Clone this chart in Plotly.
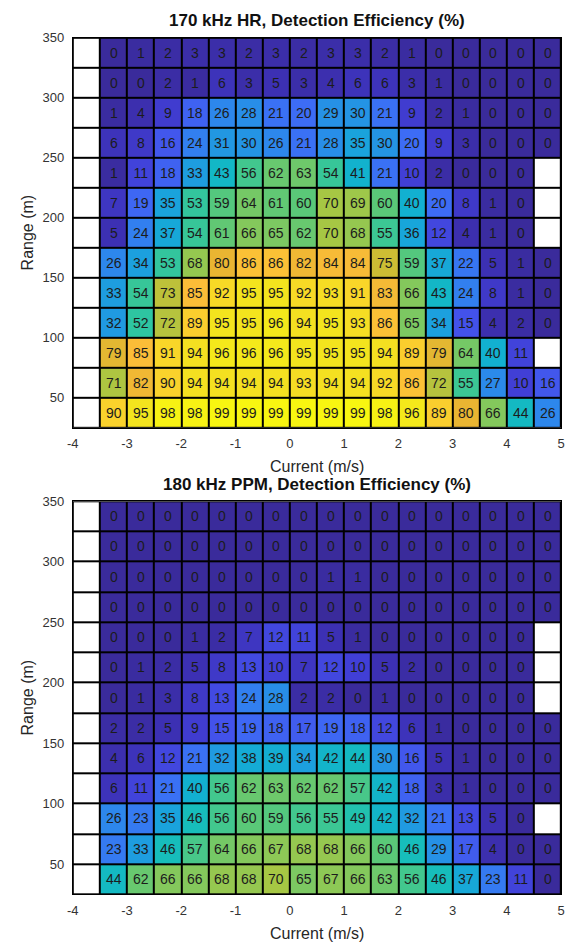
import plotly.graph_objects as go

# ---------------- data ----------------
current = [-3.75, -3.25, -2.75, -2.25, -1.75, -1.25, -0.75, -0.25, 0.25,
           0.75, 1.25, 1.75, 2.25, 2.75, 3.25, 3.75, 4.25, 4.75]
range_m = [337.5, 312.5, 287.5, 262.5, 237.5, 212.5, 187.5, 162.5,
           137.5, 112.5, 87.5, 62.5, 37.5]

N = None
hr170 = [
    [N, 0, 1, 2, 3, 3, 2, 3, 2, 3, 3, 2, 1, 0, 0, 0, 0, 0],
    [N, 0, 0, 2, 1, 6, 3, 5, 3, 4, 6, 6, 3, 1, 0, 0, 0, 0],
    [N, 1, 4, 9, 18, 26, 28, 21, 20, 29, 30, 21, 9, 2, 1, 0, 0, 0],
    [N, 6, 8, 16, 24, 31, 30, 26, 21, 28, 35, 30, 20, 9, 3, 0, 0, 0],
    [N, 1, 11, 18, 33, 43, 56, 62, 63, 54, 41, 21, 10, 2, 0, 0, 0, N],
    [N, 7, 19, 35, 53, 59, 64, 61, 60, 70, 69, 60, 40, 20, 8, 1, 0, N],
    [N, 5, 24, 37, 54, 61, 66, 65, 62, 70, 68, 55, 36, 12, 4, 1, 0, N],
    [N, 26, 34, 53, 68, 80, 86, 86, 82, 84, 84, 75, 59, 37, 22, 5, 1, 0],
    [N, 33, 54, 73, 85, 92, 95, 95, 92, 93, 91, 83, 66, 43, 24, 8, 1, 0],
    [N, 32, 52, 72, 89, 95, 95, 96, 94, 95, 93, 86, 65, 34, 15, 4, 2, 0],
    [N, 79, 85, 91, 94, 96, 96, 96, 95, 95, 95, 94, 89, 79, 64, 40, 11, N],
    [N, 71, 82, 90, 94, 94, 94, 94, 93, 94, 94, 92, 86, 72, 55, 27, 10, 16],
    [N, 90, 95, 98, 98, 99, 99, 99, 99, 99, 99, 98, 96, 89, 80, 66, 44, 26],
]

ppm180 = [
    [N, 0, 0, 0, 0, 0, 0, 0, 0, 0, 0, 0, 0, 0, 0, 0, 0, 0],
    [N, 0, 0, 0, 0, 0, 0, 0, 0, 0, 0, 0, 0, 0, 0, 0, 0, 0],
    [N, 0, 0, 0, 0, 0, 0, 0, 0, 1, 1, 0, 0, 0, 0, 0, 0, 0],
    [N, 0, 0, 0, 0, 0, 0, 0, 0, 0, 0, 0, 0, 0, 0, 0, 0, 0],
    [N, 0, 0, 0, 1, 2, 7, 12, 11, 5, 1, 0, 0, 0, 0, 0, 0, N],
    [N, 0, 1, 2, 5, 8, 13, 10, 7, 12, 10, 5, 2, 0, 0, 0, 0, N],
    [N, 0, 1, 3, 8, 13, 24, 28, 2, 2, 0, 1, 0, 0, 0, 0, 0, N],
    [N, 2, 2, 5, 9, 15, 19, 18, 17, 19, 18, 12, 6, 1, 0, 0, 0, 0],
    [N, 4, 6, 12, 21, 32, 38, 39, 34, 42, 44, 30, 16, 5, 1, 0, 0, 0],
    [N, 6, 11, 21, 40, 56, 62, 63, 62, 62, 57, 42, 18, 3, 1, 0, 0, 0],
    [N, 26, 23, 35, 46, 56, 60, 59, 56, 55, 49, 42, 32, 21, 13, 5, 0, N],
    [N, 23, 33, 46, 57, 64, 66, 67, 68, 68, 66, 60, 46, 29, 17, 4, 0, 0],
    [N, 44, 62, 66, 66, 68, 68, 70, 65, 67, 66, 63, 56, 46, 37, 23, 11, 0],
]

titles = ["170 kHz HR, Detection Efficiency (%)",
          "180 kHz PPM, Detection Efficiency (%)"]
x_ticks = [-4, -3, -2, -1, 0, 1, 2, 3, 4, 5]
y_ticks = [50, 100, 150, 200, 250, 300, 350]

# ---------------- style ----------------
W, H = 570, 944
FONT = "Liberation Sans, Arial, Helvetica, sans-serif"
colorscale = [
    [0.00, "#3a2b9b"], [0.05, "#3c30b3"], [0.10, "#413fd6"],
    [0.15, "#4352ea"], [0.20, "#3d6cf5"], [0.25, "#2f84ee"],
    [0.30, "#2494e4"], [0.35, "#1aa3dc"], [0.40, "#12b0d0"],
    [0.45, "#14bbbf"], [0.50, "#25c3aa"], [0.55, "#3cc794"],
    [0.60, "#5ac878"], [0.65, "#7cc862"], [0.70, "#a6c744"],
    [0.75, "#cdbd34"], [0.80, "#e9b532"], [0.85, "#fbbd38"],
    [0.90, "#fad22c"], [0.95, "#f3e41e"], [1.00, "#f9fb0e"],
]

# pixel boxes of plot areas (left, top, right, bottom)
panels = [(68, 31, 565, 424), (68, 498, 565, 894)]

fig = go.Figure()
layout_axes = {}
annotations = []

for i, (z, title) in enumerate(zip([hr170, ppm180], titles)):
    xa = "x" if i == 0 else "x2"
    ya = "y" if i == 0 else "y2"
    text = [["" if v is None else str(v) for v in row] for row in z]
    mask = [[1 if v is None else None for v in row] for row in z]
    fig.add_trace(go.Heatmap(
        x=current, y=range_m, z=z, text=text, texttemplate="%{text}",
        textfont=dict(family=FONT, size=14, color="#1c1c1c"),
        colorscale=colorscale, zmin=0, zmax=100, showscale=False,
        xgap=2, ygap=2, xaxis=xa, yaxis=ya, hoverongaps=False))
    fig.add_trace(go.Heatmap(
        x=current, y=range_m, z=mask,
        colorscale=[[0, "white"], [1, "white"]], showscale=False,
        xgap=2, ygap=2, xaxis=xa, yaxis=ya, hoverinfo="skip"))

    l, t, r, b = panels[i]
    xd = [l / W, r / W]
    yd = [1 - b / H, 1 - t / H]
    axcommon = dict(showgrid=False, zeroline=False, showline=True,
                    linecolor="black", linewidth=1, mirror=True,
                    ticks="", tickfont=dict(family=FONT, size=13, color="#333333"))
    layout_axes["xaxis" if i == 0 else "xaxis2"] = dict(
        domain=xd, range=[-4, 5], tickvals=x_ticks,
        ticktext=[str(v) for v in x_ticks], anchor=ya,
        ticklabelstandoff=4, **axcommon)
    layout_axes["yaxis" if i == 0 else "yaxis2"] = dict(
        domain=yd, range=[25, 350], tickvals=y_ticks,
        ticktext=[str(v) for v in y_ticks], anchor=xa,
        ticklabelstandoff=5, **axcommon)

    cx = (l + r) / 2 / W
    annotations.append(dict(text="<b>" + title + "</b>", x=cx, y=1 - (t - 17) / H,
                            xref="paper", yref="paper", showarrow=False,
                            xanchor="center", yanchor="middle",
                            font=dict(family=FONT, size=17, color="#111111")))
    annotations.append(dict(text="Current (m/s)", x=cx, y=1 - (b + 39) / H,
                            xref="paper", yref="paper", showarrow=False,
                            xanchor="center", yanchor="middle",
                            font=dict(family=FONT, size=16, color="#262626")))
    annotations.append(dict(text="Range (m)", x=22 / W, y=1 - (t + b) / 2 / H,
                            xref="paper", yref="paper", showarrow=False, textangle=-90,
                            xanchor="center", yanchor="middle",
                            font=dict(family=FONT, size=16, color="#262626")))

fig.update_layout(
    width=W, height=H, margin=dict(l=0, r=0, t=0, b=0),
    paper_bgcolor="white", plot_bgcolor="black",
    annotations=annotations, **layout_axes)

fig.write_html("out.html",
               config={"displayModeBar": False},
               post_script="document.body.style.margin='0';"
                           "document.body.style.overflow='hidden';")
